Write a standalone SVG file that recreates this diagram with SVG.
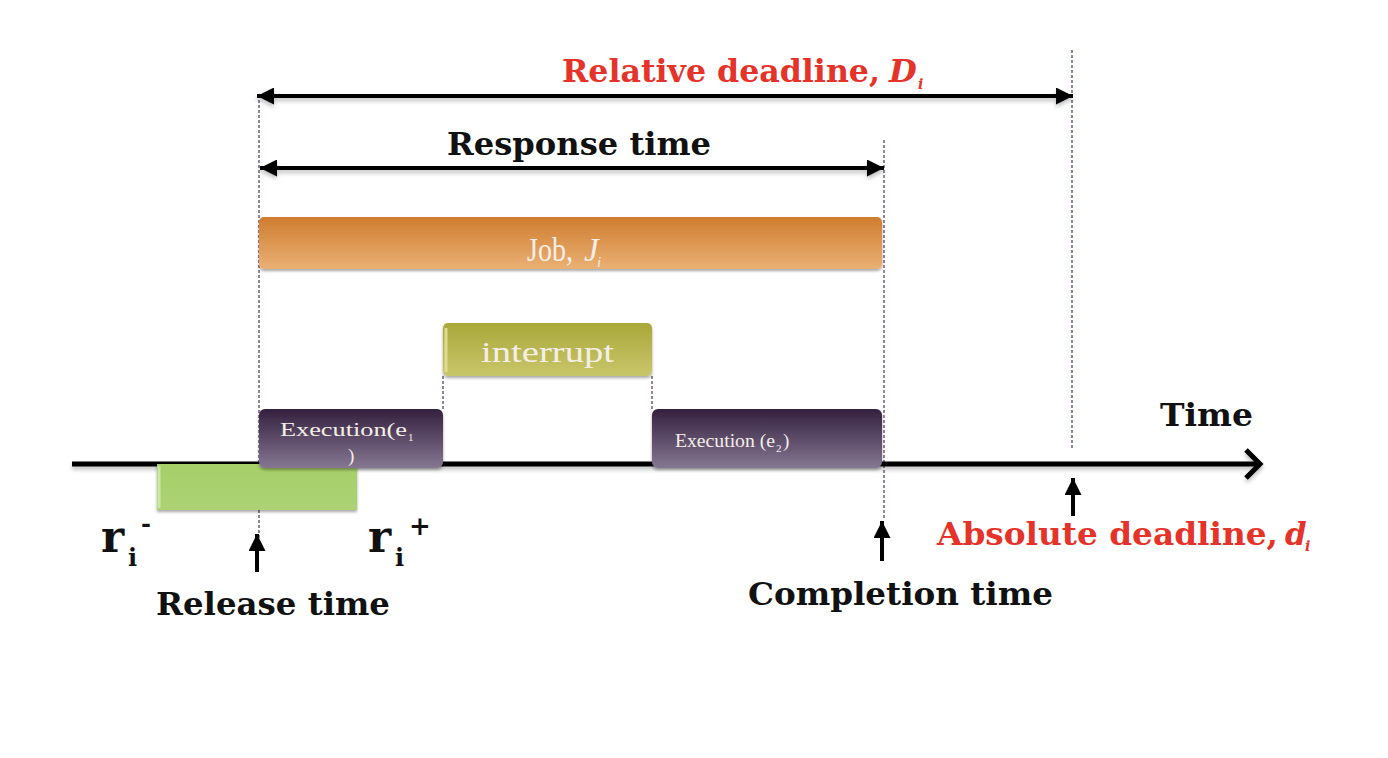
<svg xmlns="http://www.w3.org/2000/svg" width="1388" height="758" viewBox="0 0 1388 758">
<style>
.bold{font-family:"DejaVu Serif","Liberation Serif",serif;font-weight:bold;fill:#111}
.red{fill:#e5332a}
.light{font-family:"Liberation Serif","DejaVu Serif",serif;fill:#f4eee6}
.dash{stroke:#7a6388;stroke-width:1.6;stroke-dasharray:3 2;fill:none}
.arr{stroke:#000;stroke-width:4;fill:none}
</style>
<defs>
<marker id="tri" viewBox="0 0 10 10" refX="10" refY="5" markerWidth="17" markerHeight="17" markerUnits="userSpaceOnUse" orient="auto-start-reverse">
<path d="M0,0 L10,5 L0,10 z" fill="#000"/>
</marker>
<filter id="sh" x="-10%" y="-30%" width="120%" height="170%">
<feDropShadow dx="0" dy="2" stdDeviation="1.6" flood-color="#000" flood-opacity="0.35"/>
</filter>
<filter id="lsh" filterUnits="userSpaceOnUse" x="0" y="0" width="1388" height="758">
<feDropShadow dx="0" dy="3" stdDeviation="2" flood-color="#000" flood-opacity="0.25"/>
</filter>
<linearGradient id="gOr" x1="0" y1="0" x2="0" y2="1">
<stop offset="0" stop-color="#cf7d2f"/><stop offset="1" stop-color="#eab074"/>
</linearGradient>
<linearGradient id="gOl" x1="0" y1="0" x2="0" y2="1">
<stop offset="0" stop-color="#a9a83a"/><stop offset="1" stop-color="#c8c66a"/>
</linearGradient>
<linearGradient id="gPu" x1="0" y1="0" x2="0" y2="1">
<stop offset="0" stop-color="#34203f"/><stop offset="1" stop-color="#857792"/>
</linearGradient>
<linearGradient id="gGr" x1="0" y1="0" x2="0" y2="1">
<stop offset="0" stop-color="#a6cf68"/><stop offset="1" stop-color="#acd274"/>
</linearGradient>
</defs>
<rect width="1388" height="758" fill="#fff"/>

<g id="guides">
<line class="dash" x1="259" y1="100" x2="259" y2="545"/>
<line class="dash" x1="884" y1="140" x2="884" y2="520"/>
<line class="dash" x1="1072" y1="50" x2="1072" y2="450"/>
<line class="dash" x1="443" y1="376" x2="443" y2="409"/>
<line class="dash" x1="652" y1="376" x2="652" y2="409"/>
</g>

<g id="connectors">
<line class="arr" x1="257" y1="96" x2="1073" y2="96" marker-start="url(#tri)" marker-end="url(#tri)" filter="url(#lsh)"/>
<line class="arr" x1="260" y1="168" x2="884" y2="168" marker-start="url(#tri)" marker-end="url(#tri)" filter="url(#lsh)"/>
<line x1="72" y1="464" x2="1258" y2="464" stroke="#000" stroke-width="5" filter="url(#lsh)"/>
<polyline points="1246,450 1260,464 1246,478" stroke="#000" stroke-width="5" fill="none" filter="url(#lsh)"/>
<line class="arr" x1="257" y1="572" x2="257" y2="534" marker-end="url(#tri)"/>
<line class="arr" x1="882" y1="561" x2="882" y2="521" marker-end="url(#tri)"/>
<line class="arr" x1="1073" y1="516" x2="1073" y2="478" marker-end="url(#tri)"/>
</g>

<g id="release-window">
<rect x="157" y="464" width="200" height="46" fill="url(#gGr)" filter="url(#sh)"/>
<path d="M159,466 L159,508" stroke="#cde6a4" stroke-width="3"/>
</g>

<g id="job">
<rect x="259" y="217" width="623" height="52" rx="5" fill="url(#gOr)" filter="url(#sh)"/>
<text class="light" x="527" y="261" font-size="33" textLength="46" lengthAdjust="spacingAndGlyphs">Job,</text>
<text class="light" x="584" y="261" font-size="33" font-style="italic">J</text>
<text class="light" x="597" y="267" font-size="15" font-style="italic">i</text>
</g>

<g id="interrupt">
<rect x="443" y="323" width="209" height="53" rx="5" fill="url(#gOl)" filter="url(#sh)"/>
<path d="M446,328 L446,372" stroke="#dedc8e" stroke-width="3"/>
<text class="light" x="481" y="362" font-size="29" textLength="133" lengthAdjust="spacingAndGlyphs">interrupt</text>
</g>

<g id="exec1">
<rect x="259" y="409" width="184" height="59" rx="6" fill="url(#gPu)" filter="url(#sh)"/>
<text class="light" x="280" y="436" font-size="19" textLength="127" lengthAdjust="spacingAndGlyphs">Execution(e</text>
<text class="light" x="408" y="441" font-size="11">1</text>
<text class="light" x="348" y="462" font-size="19">)</text>
</g>

<g id="exec2">
<rect x="652" y="409" width="230" height="59" rx="6" fill="url(#gPu)" filter="url(#sh)"/>
<text class="light" x="675" y="447" font-size="19" textLength="100" lengthAdjust="spacingAndGlyphs">Execution (e</text>
<text class="light" x="776" y="452" font-size="11">2</text>
<text class="light" x="783" y="447" font-size="19">)</text>
</g>

<g id="labels">
<text class="bold red" x="562" y="82" font-size="32" textLength="318" lengthAdjust="spacingAndGlyphs">Relative deadline,</text>
<text class="bold red" x="889" y="82" font-size="32" font-style="italic">D</text>
<text class="bold red" x="918" y="89" font-size="14" font-style="italic">i</text>
<text class="bold" x="447" y="155" font-size="31" textLength="264" lengthAdjust="spacingAndGlyphs">Response time</text>
<text class="bold" x="1160" y="426" font-size="31" textLength="93" lengthAdjust="spacingAndGlyphs">Time</text>
<text class="bold" x="101" y="552" font-size="44">r</text>
<text class="bold" x="128" y="566" font-size="24">i</text>
<text class="bold" x="141" y="532" font-size="24">-</text>
<text class="bold" x="368" y="552" font-size="44">r</text>
<text class="bold" x="395" y="566" font-size="24">i</text>
<text class="bold" x="409" y="535" font-size="26">+</text>
<text class="bold" x="156" y="615" font-size="31" textLength="234" lengthAdjust="spacingAndGlyphs">Release time</text>
<text class="bold" x="748" y="605" font-size="31" textLength="305" lengthAdjust="spacingAndGlyphs">Completion time</text>
<text class="bold red" x="937" y="545" font-size="31" textLength="341" lengthAdjust="spacingAndGlyphs">Absolute deadline,</text>
<text class="bold red" x="1285" y="545" font-size="31" font-style="italic">d</text>
<text class="bold red" x="1305" y="551" font-size="14" font-style="italic">i</text>
</g>
</svg>
